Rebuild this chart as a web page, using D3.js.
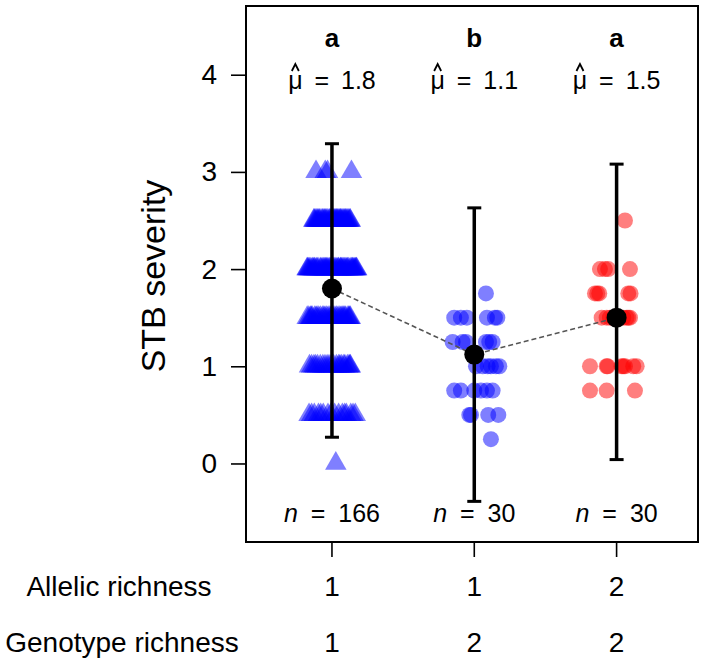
<!DOCTYPE html>
<html>
<head>
<meta charset="utf-8">
<script src="https://cdn.jsdelivr.net/npm/d3@7"></script>
<style>
  html, body { margin: 0; padding: 0; background: #fff; }
  svg { display: block; font-family: "Liberation Sans", Arial, sans-serif; }
</style>
</head>
<body>
<svg id="chart" width="709" height="663"></svg>
<script>
// ---- data ----
const groups = [1, 2, 3];
const meanValues = [1.8, 1.12, 1.5];
const ciLower = [0.27, -0.39, 0.04];
const ciUpper = [3.29, 2.63, 3.08];
const letters = ["a", "b", "a"];
const muLabels = ["1.8", "1.1", "1.5"];
const nLabels = ["166", "30", "30"];
const allelicRichness = ["1", "1", "2"];
const genotypeRichness = ["1", "2", "2"];
const yTicks = [0, 1, 2, 3, 4];

// group 1 (triangles): severity levels and horizontal jitter of each point
const g1Levels = [0, 0.5, 1, 1.5, 2, 2.5, 3];
const g1Jitter = [
  [0.027],
  [-0.161, 0.073, -0.095, 0.132, -0.028, 0.164, -0.124, 0.019, -0.061, 0.101, -0.143, 0.047, -0.008, 0.148, -0.079, 0.089],
  [-0.158, 0.047, -0.082, 0.126, -0.021, 0.091, -0.127, 0.012, -0.049, 0.108, -0.143, 0.068, -0.006, 0.119, -0.101, 0.031, -0.064, 0.083, -0.034, 0.129, -0.115, 0.056],
  [-0.174, 0.021, -0.093, 0.118, -0.038, 0.064, -0.151, 0.097, -0.006, -0.122, 0.043, -0.067, 0.129, -0.015, 0.081, -0.163, 0.009, -0.104, 0.055, -0.049, 0.112, -0.139, 0.032, -0.081, 0.073, -0.027, 0.124, -0.112, 0.003, 0.089, -0.058, -0.145],
  [-0.172, 0.154, -0.041, 0.088, -0.133, 0.019, 0.171, -0.097, 0.062, -0.158, 0.117, -0.012, 0.035, -0.069, 0.143, -0.121, 0.004, 0.096, -0.149, 0.073, -0.028, 0.165, -0.083, 0.047, -0.165, 0.128, -0.054, 0.011, 0.109, -0.111, 0.058, -0.004, 0.137, -0.139, 0.027, -0.077, 0.161, -0.035, 0.081, -0.126, 0.104, -0.061, 0.043, -0.175, 0.147, -0.019, 0.066, -0.104, 0.174, -0.047],
  [-0.128, 0.034, -0.071, 0.112, -0.015, 0.087, -0.102, 0.006, 0.129, -0.046, 0.061, -0.089, 0.023, -0.117, 0.074, -0.031, 0.098, -0.058, 0.012, 0.119, -0.083, 0.045, -0.004, 0.067, -0.124, 0.029, -0.066, 0.105, -0.021, 0.052, -0.096, 0.081, -0.039, 0.017, 0.126, -0.109, 0.039, -0.052, 0.093, -0.008, 0.058],
  [-0.112, -0.047, -0.031, 0.137]
];

// group 2 (blue circles)
const g2Levels = [0.25, 0.5, 0.75, 1, 1.25, 1.5, 1.75];
const g2Jitter = [
  [0.117],
  [-0.035, -0.023, 0.098, 0.169],
  [-0.141, -0.094, 0.0, 0.047, 0.089, 0.129],
  [0.012, 0.059, 0.094, 0.117, 0.152, 0.176],
  [-0.152, -0.082, -0.058, 0.082, 0.105, 0.129],
  [-0.141, -0.094, -0.052, 0.089, 0.145, 0.162],
  [0.082]
];

// group 3 (red circles)
const g3Levels = [0.75, 1, 1.5, 1.75, 2, 2.5];
const g3Jitter = [
  [-0.187, -0.07, 0.129],
  [-0.187, -0.07, 0.035, 0.047, 0.059, 0.117, 0.141, -0.063],
  [-0.105, -0.07, -0.047, -0.023, -0.012, 0.047, 0.07, 0.082, 0.094],
  [-0.152, -0.136, -0.122, 0.082, 0.098],
  [-0.117, -0.082, -0.059, 0.094],
  [0.059]
];

function flatten(levels, jitter, group) {
  const out = [];
  levels.forEach((v, i) => jitter[i].forEach(j => out.push({ g: group, v: v, j: j })));
  return out;
}
const pts1 = flatten(g1Levels, g1Jitter, 1);
const pts2 = flatten(g2Levels, g2Jitter, 2);
const pts3 = flatten(g3Levels, g3Jitter, 3);

// ---- layout ----
const box = { left: 246, right: 698, top: 6, bottom: 542 };
const x = d3.scaleLinear().domain([0.396, 3.572]).range([box.left, box.right]);
const y = d3.scaleLinear().domain([-0.808, 4.707]).range([box.bottom, box.top]);

const svg = d3.select("#chart");
svg.append("rect").attr("width", 709).attr("height", 663).attr("fill", "#fff");

// points
const tri = d3.symbol().type(d3.symbolTriangle).size(200);
svg.append("g").selectAll("path").data(pts1).join("path")
  .attr("d", tri)
  .attr("transform", d => `translate(${x(d.g + d.j)},${y(d.v)})`)
  .attr("fill", "rgba(0,0,255,0.5)");

svg.append("g").selectAll("circle").data(pts2).join("circle")
  .attr("cx", d => x(d.g + d.j)).attr("cy", d => y(d.v)).attr("r", 8)
  .attr("fill", "rgba(0,0,255,0.5)");

svg.append("g").selectAll("circle").data(pts3).join("circle")
  .attr("cx", d => x(d.g + d.j)).attr("cy", d => y(d.v)).attr("r", 8)
  .attr("fill", "rgba(255,0,0,0.5)");

// dashed line through means
svg.append("path")
  .datum(groups.map((g, i) => [g, meanValues[i]]))
  .attr("d", d3.line().x(d => x(d[0])).y(d => y(d[1])))
  .attr("fill", "none").attr("stroke", "#555").attr("stroke-width", 1.6)
  .attr("stroke-dasharray", "5,3");

// error bars
const eb = svg.append("g").attr("stroke", "#000").attr("stroke-width", 3.5);
groups.forEach((g, i) => {
  eb.append("line").attr("x1", x(g)).attr("x2", x(g)).attr("y1", y(ciLower[i])).attr("y2", y(ciUpper[i]));
  [ciLower[i], ciUpper[i]].forEach(v => {
    eb.append("line").attr("x1", x(g) - 7).attr("x2", x(g) + 7).attr("y1", y(v)).attr("y2", y(v)).attr("stroke-width", 3);
  });
});

// mean points
svg.append("g").selectAll("circle").data(groups).join("circle")
  .attr("cx", g => x(g)).attr("cy", (g, i) => y(meanValues[i])).attr("r", 10)
  .attr("fill", "#000");

// box
svg.append("rect")
  .attr("x", box.left).attr("y", box.top)
  .attr("width", box.right - box.left).attr("height", box.bottom - box.top)
  .attr("fill", "none").attr("stroke", "#000").attr("stroke-width", 2);

// y axis
const yAxis = d3.axisLeft(y).tickValues(yTicks).tickSize(15).tickPadding(14).tickFormat(d3.format("d"));
const yg = svg.append("g").attr("transform", `translate(${box.left},0)`).call(yAxis);
yg.select(".domain").remove();
yg.selectAll(".tick line").attr("stroke-width", 1.6);
yg.selectAll(".tick text").attr("font-size", 28).attr("font-family", "Liberation Sans, Arial, sans-serif").attr("fill", "#000");

svg.append("text")
  .attr("transform", `translate(165,${(box.top + box.bottom) / 2 + 2}) rotate(-90)`)
  .attr("text-anchor", "middle").attr("font-size", 34)
  .text("STB severity");

// x ticks
svg.append("g").selectAll("line").data(groups).join("line")
  .attr("x1", g => x(g)).attr("x2", g => x(g))
  .attr("y1", box.bottom).attr("y2", box.bottom + 15)
  .attr("stroke", "#000").attr("stroke-width", 1.6);

// bottom labels
svg.append("text").attr("x", 119).attr("y", 596).attr("text-anchor", "middle").attr("font-size", 28).text("Allelic richness");
svg.append("text").attr("x", 122).attr("y", 652).attr("text-anchor", "middle").attr("font-size", 28).text("Genotype richness");
svg.append("g").selectAll("text").data(groups).join("text")
  .attr("x", g => x(g)).attr("y", 596).attr("text-anchor", "middle").attr("font-size", 28)
  .text((g, i) => allelicRichness[i]);
svg.append("g").selectAll("text").data(groups).join("text")
  .attr("x", g => x(g)).attr("y", 652).attr("text-anchor", "middle").attr("font-size", 28)
  .text((g, i) => genotypeRichness[i]);

// significance letters
svg.append("g").selectAll("text").data(groups).join("text")
  .attr("x", g => x(g)).attr("y", 47).attr("text-anchor", "middle")
  .attr("font-size", 26).attr("font-weight", "bold")
  .text((g, i) => letters[i]);

// mu-hat labels
groups.forEach((g, i) => {
  const t = svg.append("text")
    .attr("x", x(g)).attr("y", 89).attr("text-anchor", "middle")
    .attr("font-size", 25).attr("word-spacing", 5)
    .text("\u03bc = " + muLabels[i]);
  const ext = t.node().getExtentOfChar(0);
  const cx = ext.x + ext.width / 2;
  svg.append("path")
    .attr("d", `M${cx - 3.5},${71} L${cx},${64} L${cx + 3.5},${71}`)
    .attr("fill", "none").attr("stroke", "#000").attr("stroke-width", 1.8);
});

// n labels
groups.forEach((g, i) => {
  const t = svg.append("text")
    .attr("x", x(g)).attr("y", 522).attr("text-anchor", "middle")
    .attr("font-size", 25).attr("word-spacing", 6);
  t.append("tspan").attr("font-style", "italic").text("n");
  t.append("tspan").text(" = " + nLabels[i]);
});
</script>
</body>
</html>
